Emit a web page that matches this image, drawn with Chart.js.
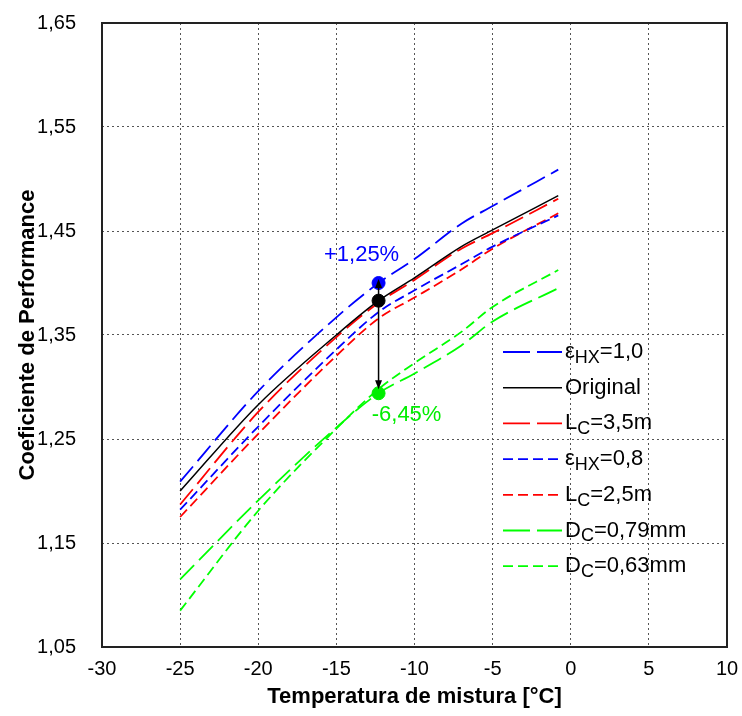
<!DOCTYPE html>
<html>
<head>
<meta charset="utf-8">
<script src="https://cdn.jsdelivr.net/npm/chart.js@4.4.1/dist/chart.umd.min.js"></script>
<style>
  html, body { margin: 0; padding: 0; background: #fff; }
  #wrap { width: 742px; height: 716px; }
</style>
</head>
<body>
<div id="wrap"><canvas id="copChart" width="742" height="716"></canvas></div>
<script>
// Temperatura de mistura [°C]
const temps = [-25, -20, -15, -12.3, -10, -7, -5, -0.8];

// COP por configuração
const copHx10 = [1.209, 1.296, 1.367, 1.400, 1.423, 1.457, 1.474, 1.509];
const copOriginal = [1.200, 1.283, 1.350, 1.383, 1.405, 1.435, 1.451, 1.484];
const copLc35 = [1.187, 1.276, 1.348, 1.381, 1.403, 1.433, 1.448, 1.481];
const copHx08 = [1.182, 1.262, 1.336, 1.372, 1.393, 1.418, 1.435, 1.465];
const copLc25 = [1.175, 1.255, 1.330, 1.366, 1.386, 1.413, 1.433, 1.467];
const copDc079 = [1.115, 1.191, 1.261, 1.294, 1.313, 1.340, 1.363, 1.395];
const copDc063 = [1.085, 1.181, 1.260, 1.298, 1.323, 1.353, 1.377, 1.4125];

// legenda: [texto, subscrito, resto]
const legendLabels = [
    ["ε", "HX", "=1,0"],
    ["Original", "", ""],
    ["L", "C", "=3,5m"],
    ["ε", "HX", "=0,8"],
    ["L", "C", "=2,5m"],
    ["D", "C", "=0,79mm"],
    ["D", "C", "=0,63mm"]
];

// marcadores de comparação
const markerTemp = -12.3;
const markerCop = [1.400, 1.383, 1.294];
const markerColors = ["#0000ff", "#000000", "#00ee00"];
const deltaLabels = ["+1,25%", "-6,45%"];

const xTicks = [-30, -25, -20, -15, -10, -5, 0, 5, 10];
const yTicks = [1.05, 1.15, 1.25, 1.35, 1.45, 1.55, 1.65];

const LONG = [20, 7];
const SHORT = [10, 5];

function series(values, color, dash, legendDash, width) {
    return {
        type: "line",
        data: temps.map((t, i) => ({ x: t, y: values[i] })),
        borderColor: color,
        borderDash: dash,
        legendDash: legendDash,
        borderWidth: width || 1.8,
        pointRadius: 0,
        fill: false,
        cubicInterpolationMode: "monotone"
    };
}

const datasets = [
    series(copHx10, "#0000ff", LONG, [27, 7]),
    series(copOriginal, "#000000", [], [], 1.5),
    series(copLc35, "#ff0000", LONG, [27, 7]),
    series(copHx08, "#0000ff", SHORT, [10, 5]),
    series(copLc25, "#ff0000", SHORT, [10, 5]),
    series(copDc079, "#00ff00", LONG, [27, 7]),
    series(copDc063, "#00ff00", SHORT, [10, 5]),
    {
        type: "scatter",
        data: markerCop.map(v => ({ x: markerTemp, y: v })),
        pointRadius: 6.5,
        pointHoverRadius: 6.5,
        pointBackgroundColor: markerColors,
        pointBorderColor: markerColors,
        order: -1
    }
];

const fontFamily = "Arial, 'Liberation Sans', sans-serif";

// moldura, setas, textos e legenda
const extras = {
    id: "extras",
    beforeDatasetsDraw(chart) {
        const { ctx, chartArea } = chart;
        ctx.save();
        ctx.strokeStyle = "#222";
        ctx.lineWidth = 2;
        ctx.strokeRect(chartArea.left, chartArea.top, chartArea.right - chartArea.left, chartArea.bottom - chartArea.top);
        ctx.restore();
    },
    afterDatasetsDraw(chart) {
        const { ctx, scales } = chart;
        const x = scales.x.getPixelForValue(markerTemp);
        const yBlue = scales.y.getPixelForValue(markerCop[0]);
        const yBlack = scales.y.getPixelForValue(markerCop[1]);
        const yGreen = scales.y.getPixelForValue(markerCop[2]);

        ctx.save();
        ctx.strokeStyle = "#000";
        ctx.fillStyle = "#000";
        ctx.lineWidth = 1.5;
        drawArrow(ctx, x, yBlack, x, yBlue - 4);
        drawArrow(ctx, x, yBlack, x, yGreen - 4);

        ctx.font = "22px " + fontFamily;
        ctx.textAlign = "center";
        ctx.textBaseline = "middle";
        ctx.fillStyle = "#0000ff";
        ctx.fillText(deltaLabels[0], x - 17, yBlue - 28);
        ctx.fillStyle = "#00ee00";
        ctx.fillText(deltaLabels[1], x + 28, yGreen + 22);

        // legenda
        legendLabels.forEach((parts, i) => {
            const ds = chart.data.datasets[i];
            const y = 352 + i * 35.7;
            ctx.strokeStyle = ds.borderColor;
            ctx.lineWidth = ds.borderWidth;
            ctx.setLineDash(ds.legendDash);
            ctx.beginPath();
            ctx.moveTo(503, y);
            ctx.lineTo(562, y);
            ctx.stroke();
            ctx.setLineDash([]);

            ctx.fillStyle = "#000";
            ctx.textAlign = "left";
            ctx.textBaseline = "middle";
            let tx = 565;
            ctx.font = "22px " + fontFamily;
            ctx.fillText(parts[0], tx, y);
            tx += ctx.measureText(parts[0]).width;
            if (parts[1]) {
                ctx.font = "18px " + fontFamily;
                ctx.fillText(parts[1], tx, y + 6);
                tx += ctx.measureText(parts[1]).width;
                ctx.font = "22px " + fontFamily;
                ctx.fillText(parts[2], tx, y);
            }
        });
        ctx.restore();
    }
};

function drawArrow(ctx, x0, y0, x1, y1) {
    const dir = y1 > y0 ? 1 : -1;
    ctx.beginPath();
    ctx.moveTo(x0, y0);
    ctx.lineTo(x1, y1 - dir * 6);
    ctx.stroke();
    ctx.beginPath();
    ctx.moveTo(x1, y1);
    ctx.lineTo(x1 - 3.5, y1 - dir * 9);
    ctx.lineTo(x1 + 3.5, y1 - dir * 9);
    ctx.closePath();
    ctx.fill();
}

new Chart(document.getElementById("copChart"), {
    data: { datasets: datasets },
    plugins: [extras],
    options: {
        responsive: false,
        animation: false,
        layout: { padding: { top: 23, right: 15, left: 0, bottom: 0 } },
        plugins: {
            legend: { display: false },
            tooltip: { enabled: false }
        },
        scales: {
            x: {
                type: "linear",
                min: -30,
                max: 10,
                afterFit(scale) {
                    scale.height = 69;
                    scale.paddingLeft = 0;
                    scale.paddingRight = 0;
                },
                afterBuildTicks(scale) { scale.ticks = xTicks.map(v => ({ value: v })); },
                ticks: {
                    color: "#000",
                    padding: 10,
                    maxRotation: 0,
                    font: { family: fontFamily, size: 20 },
                    callback: v => String(v)
                },
                grid: {
                    color: "#555",
                    lineWidth: 1,
                    drawTicks: false
                },
                border: { display: false, dash: [2, 3] },
                title: {
                    display: true,
                    text: "Temperatura de mistura [°C]",
                    color: "#000",
                    font: { family: fontFamily, size: 22, weight: "bold" },
                    padding: { top: 0, bottom: 6 }
                }
            },
            y: {
                type: "linear",
                min: 1.05,
                max: 1.65,
                afterFit(scale) {
                    scale.width = 102;
                    scale.paddingTop = 0;
                    scale.paddingBottom = 0;
                },
                afterBuildTicks(scale) { scale.ticks = yTicks.map(v => ({ value: v })); },
                ticks: {
                    color: "#000",
                    padding: 26,
                    font: { family: fontFamily, size: 20 },
                    callback: v => v.toFixed(2).replace(".", ",")
                },
                grid: {
                    color: "#555",
                    lineWidth: 1,
                    drawTicks: false
                },
                border: { display: false, dash: [2, 3] },
                title: {
                    display: true,
                    text: "Coeficiente de Performance",
                    color: "#000",
                    font: { family: fontFamily, size: 22, weight: "bold" },
                    padding: { top: 15, bottom: 0 }
                }
            }
        }
    }
});
</script>
</body>
</html>
